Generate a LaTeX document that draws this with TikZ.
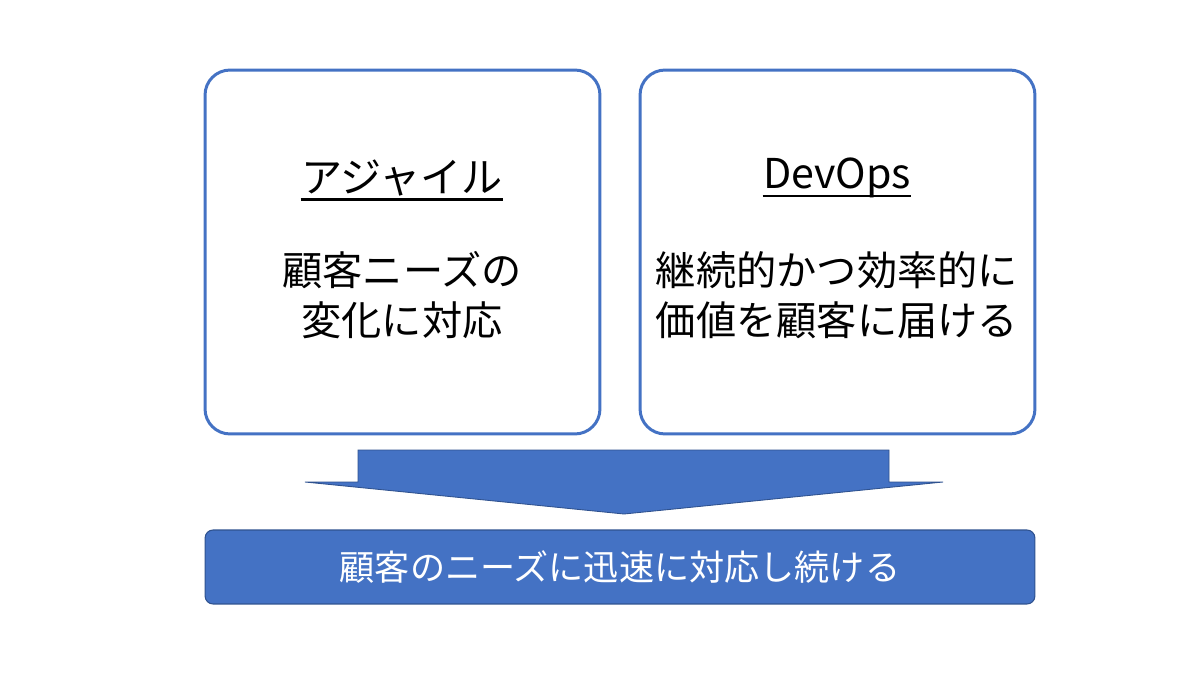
\documentclass[tikz,border=0pt]{standalone}
\usepackage{fontspec}
\setmainfont{Noto Sans CJK JP}
\usetikzlibrary{positioning}
\definecolor{PanelBlue}{RGB}{68,114,196}
\definecolor{EdgeBlue}{RGB}{47,82,143}

\begin{document}
\begin{tikzpicture}[x=0.02cm,y=-0.02cm,
  panel/.style={draw=PanelBlue,line width=1.7pt,rounded corners=0.5cm,fill=white,
    minimum width=7.9cm,minimum height=7.28cm},
  heading/.style={font=\fontsize{23.4}{28}\selectfont,inner sep=0pt},
  body/.style={font=\fontsize{22.9}{28.5}\selectfont,align=center,inner sep=0pt},
  banner/.style={draw=EdgeBlue,line width=0.6pt,fill=PanelBlue,rounded corners=0.16cm,
    minimum width=16.6cm,minimum height=1.48cm,text=white,font=\fontsize{20}{24}\selectfont}]
  \useasboundingbox[fill=white] (0,0) rectangle (1200,675);
  % two panels
  \node[panel] (agile) at (402.5,252) {};
  \node[panel] (devops) at (837.5,252) {};
  \node[heading] (agiletitle) at (402,178) {アジャイル};
  \node[heading] (devopstitle) at (837,178) {DevOps};
  \draw[line width=1.2pt] ([yshift=-4pt]agiletitle.base west) -- ([yshift=-4pt]agiletitle.base east);
  \draw[line width=1.2pt] ([yshift=-4pt]devopstitle.base west) -- ([yshift=-4pt]devopstitle.base east);
  \node[body] (agilebody) at (402,295) {顧客ニーズの\\変化に対応};
  \node[body] (devopsbody) at (837,295) {継続的かつ効率的に\\価値を顧客に届ける};
  % block arrow
  \filldraw[fill=PanelBlue,draw=EdgeBlue,line width=0.5pt]
    (358,450) -- (889,450) -- (889,482) -- (943,482) -- (624,514)
    -- (305,482) -- (358,482) -- cycle;
  \node[banner] (goal) at (620,567) {顧客のニーズに迅速に対応し続ける};
\end{tikzpicture}
\end{document}
